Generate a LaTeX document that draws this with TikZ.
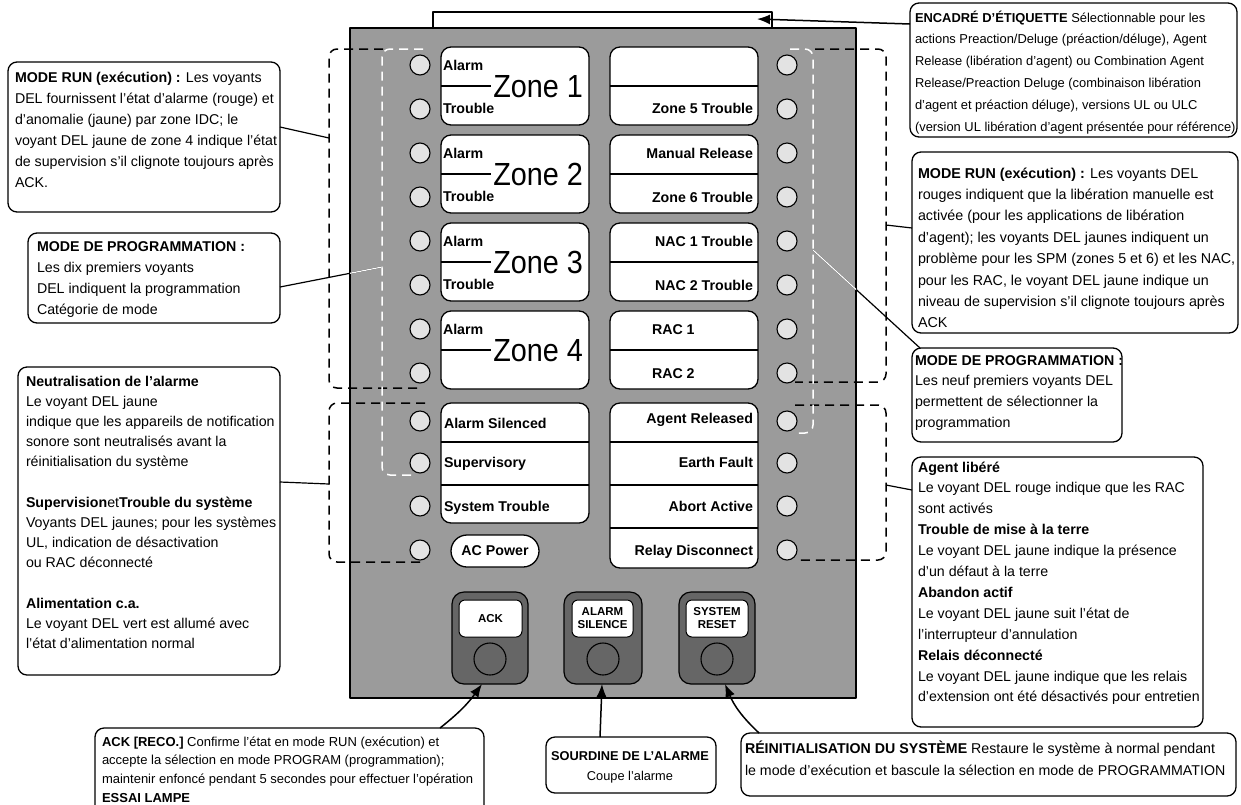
\documentclass[tikz,border=0pt]{standalone}
\usepackage{fontspec}
\usepackage{graphicx}
\setmainfont{Liberation Sans}
\usetikzlibrary{calc,arrows.meta}
\definecolor{panelgray}{HTML}{9B9B9B}
\definecolor{btngray}{HTML}{666666}
\definecolor{ledgray}{HTML}{E3E3E3}
\newcommand\st{\rule{0pt}{16pt}}
\begin{document}
\begin{tikzpicture}[x=1pt,y=-1pt,line join=round,
  every node/.style={inner sep=0pt,outer sep=0pt},
  callout/.style={draw=black,line width=1.3pt,fill=white,rounded corners=9pt,anchor=north west},
  ctext/.style={anchor=north west,align=left,font=\fontsize{14.2}{#1}\selectfont},
  ctext/.default=21,
  lbl/.style={font=\bfseries\fontsize{14.2}{16}\selectfont},
  zonetxt/.style={font=\fontsize{32}{32}\selectfont,anchor=base east},
  lblbox/.style={draw=black,line width=1.3pt,fill=white,rounded corners=10pt,anchor=north west},
  led/.style={circle,draw=black,line width=1.1pt,fill=ledgray,minimum size=20pt},
  btn/.style={draw=black,line width=1.2pt,fill=btngray,rounded corners=12pt,anchor=north west,minimum width=76pt,minimum height=92pt},
  btnlbl/.style={draw=black,line width=1pt,fill=white,rounded corners=6pt,anchor=north west,minimum height=37pt,align=center,font=\bfseries\fontsize{11.5}{13}\selectfont},
  btncirc/.style={circle,draw=black,line width=1.1pt,minimum size=32pt},
  dashblk/.style={draw=black,line width=1.5pt,dash pattern=on 9pt off 6pt,rounded corners=8pt},
  dashwht/.style={draw=white,line width=1.5pt,dash pattern=on 9pt off 6pt,rounded corners=8pt},
  conn/.style={draw=black,line width=1.2pt},
  arr/.style={draw=black,line width=1.5pt,-{Latex[length=13pt,width=10pt]}},
]
\useasboundingbox (0,0) rectangle (1241,804);
\clip (0,0) rectangle (1241,804);
\fill[white] (0,0) rectangle (1241,804);

% label frame and panel
\node[draw=black,line width=1.3pt,fill=white,anchor=north west,minimum width=339pt,minimum height=30pt] (frame) at (433,12) {};
\node[draw=black,line width=1.3pt,fill=panelgray,anchor=north west,minimum width=506pt,minimum height=670pt] (panel) at (350,28) {};

% zone boxes
\foreach \k/\z in {0/1,1/2,2/3,3/4}{
  \pgfmathsetmacro\yt{47+88*\k}
  \node[lblbox,minimum width=148pt,minimum height=78pt] (zl\k) at (441,\yt) {};
  \draw[line width=1.3pt] (zl\k.west) -- ++(50,0);
  \node[lbl,anchor=base west] (al\k) at (443,\yt+23) {Alarm};
  \node[zonetxt] (zt\k) at (583,\yt+50) {\scalebox{0.9}[1]{Zone \z}};
  \node[lblbox,minimum width=148pt,minimum height=78pt] (zr\k) at (610,\yt) {};
  \draw[line width=1.3pt] (zr\k.west) -- (zr\k.east);
}
\foreach \k in {0,1,2}{
  \node[lbl,anchor=base west] (tr\k) at (443,47+88*\k+66) {Trouble};
}
\node[lbl,anchor=base east] (r2) at (753,113) {Zone 5 Trouble};
\node[lbl,anchor=base east] (r3) at (753,158) {Manual Release};
\node[lbl,anchor=base east] (r4) at (753,202) {Zone 6 Trouble};
\node[lbl,anchor=base east] (r5) at (753,246) {NAC 1 Trouble};
\node[lbl,anchor=base east] (r6) at (753,290) {NAC 2 Trouble};
\node[lbl,anchor=base west] (r7) at (652,334) {RAC 1};
\node[lbl,anchor=base west] (r8) at (652,378) {RAC 2};

% lower groups
\node[lblbox,minimum width=148pt,minimum height=120pt] (gl) at (441,403) {};
\draw[line width=1.3pt] (441,442) -- (589,442) (441,485) -- (589,485);
\node[lbl,anchor=base west] (s1) at (444,428) {Alarm Silenced};
\node[lbl,anchor=base west] (s2) at (444,467) {Supervisory};
\node[lbl,anchor=base west] (s3) at (444,511) {System Trouble};
\node[draw=black,line width=1.3pt,fill=white,rounded corners=16pt,minimum width=88pt,minimum height=32pt,anchor=north west,lbl] (acp) at (451,535) {AC Power};
\node[lblbox,minimum width=148pt,minimum height=165pt] (gr) at (610,403) {};
\draw[line width=1.3pt] (610,442) -- (758,442) (610,485) -- (758,485) (610,528) -- (758,528);
\node[lbl,anchor=base east] (t1) at (753,423) {Agent Released};
\node[lbl,anchor=base east] (t2) at (753,467) {Earth Fault};
\node[lbl,anchor=base east] (t3) at (753,511) {Abort Active};
\node[lbl,anchor=base east] (t4) at (753,555) {Relay Disconnect};

% LEDs
\foreach \y [count=\i] in {65,109,153,197,241,285,329,373,421,463,506,550}{
  \node[led] (ledL\i) at (420,\y) {};
  \node[led] (ledR\i) at (787,\y) {};
}

% buttons
\node[btn] (bAck) at (452,592) {};
\node[btnlbl,minimum width=63pt] (lAck) at (459,600) {ACK};
\node[btncirc] (cAck) at (490,659) {};
\node[btn,minimum width=78pt] (bSil) at (564,592) {};
\node[btnlbl,minimum width=61pt] (lSil) at (572,600) {ALARM\\SILENCE};
\node[btncirc] (cSil) at (603,659) {};
\node[btn] (bRst) at (679,592) {};
\node[btnlbl,minimum width=62pt] (lRst) at (686,600) {SYSTEM\\RESET};
\node[btncirc] (cRst) at (717,659) {};

% dashed groupings
\draw[dashblk] (383,49) -| (329,388) -- (423,388);
\draw[dashblk] (425,403) -| (329,562) -- (425,562);
\draw[dashblk] (815,49) -| (886,382) -- (795,382);
\draw[dashblk] (795,405) -| (886,560) -- (795,560);
\draw[dashwht] (423,49) -- (382,49) -- (382,475) -- (417,475);
\draw[dashwht] (790,49) -- (813,49) -- (813,433) -- (795,433);

\coordinate (eRunL) at (329,138);
\coordinate (eProgL) at (382,267);
\coordinate (eNeutL) at (329,484);
\coordinate (eRunR) at (886,225);
\coordinate (eProgR) at (813,250);
\coordinate (eAgent) at (886,485);

% callouts
\node[callout,minimum width=272pt,minimum height=150pt] (runL) at (8,62) {};
\node[ctext] (runLt) at (15,66) {\st\textbf{MODE RUN (exécution) :} Les voyants\\
DEL fournissent l'état d'alarme (rouge) et\\
d'anomalie (jaune) par zone IDC; le\\
voyant DEL jaune de zone 4 indique l'état\\
de supervision s’il clignote toujours après\\
ACK.};

\node[callout,minimum width=252pt,minimum height=90pt] (progL) at (28,233) {};
\node[ctext] (progLt) at (37,235) {\st\textbf{MODE DE PROGRAMMATION :}\\
Les dix premiers voyants\\
DEL indiquent la programmation\\
Catégorie de mode};

\node[callout,minimum width=262pt,minimum height=308pt] (neutL) at (18,367) {};
\node[ctext=20.2] (neutLt) at (26,370) {\st\textbf{Neutralisation de l'alarme}\\
Le voyant DEL jaune\\
indique que les appareils de notification\\
sonore sont neutralisés avant la\\
réinitialisation du système\\
\mbox{}\\
\textbf{Supervision}et\textbf{Trouble du système}\\
Voyants DEL jaunes; pour les systèmes\\
UL, indication de désactivation\\
ou RAC déconnecté\\
\mbox{}\\
\textbf{Alimentation c.a.}\\
Le voyant DEL vert est allumé avec\\
l'état d'alimentation normal};

\node[callout,minimum width=327pt,minimum height=134pt] (encR) at (910,3) {};
\node[anchor=north west,align=left,font=\fontsize{12.9}{21.8}\selectfont] (encRt) at (915,6) {\st\textbf{ENCADRÉ D'ÉTIQUETTE} Sélectionnable pour les\\
actions Preaction/Deluge (préaction/déluge), Agent\\
Release (libération d'agent) ou Combination Agent\\
Release/Preaction Deluge (combinaison libération\\
d'agent et préaction déluge), versions UL ou ULC\\
(version UL libération d'agent présentée pour référence)};

\node[callout,minimum width=326pt,minimum height=181pt] (runR) at (912,152) {};
\node[anchor=north west,align=left,font=\fontsize{14.3}{21.4}\selectfont] (runRt) at (918,162) {\st\textbf{MODE RUN (exécution) :} Les voyants DEL\\
rouges indiquent que la libération manuelle est\\
activée (pour les applications de libération\\
d'agent); les voyants DEL jaunes indiquent un\\
problème pour les SPM (zones 5 et 6) et les NAC,\\
pour les RAC, le voyant DEL jaune indique un\\
niveau de supervision s’il clignote toujours après\\
ACK};

\node[callout,minimum width=210pt,minimum height=94pt] (progR) at (912,348) {};
\node[ctext=20.7] (progRt) at (915,349) {\st\textbf{MODE DE PROGRAMMATION :}\\
Les neuf premiers voyants DEL\\
permettent de sélectionner la\\
programmation};

\node[callout,minimum width=291pt,minimum height=270pt] (agentR) at (912,457) {};
\node[ctext=20.9] (agentRt) at (918,456) {\st\textbf{Agent libéré}\\
Le voyant DEL rouge indique que les RAC\\
sont activés\\
\textbf{Trouble de mise à la terre}\\
Le voyant DEL jaune indique la présence\\
d'un défaut à la terre\\
\textbf{Abandon actif}\\
Le voyant DEL jaune suit l'état de\\
l'interrupteur d'annulation\\
\textbf{Relais déconnecté}\\
Le voyant DEL jaune indique que les relais\\
d'extension ont été désactivés pour entretien};

\node[callout,minimum width=389pt,minimum height=100pt] (ackB) at (95,728) {};
\node[anchor=north west,align=left,font=\fontsize{13}{18.8}\selectfont] (ackBt) at (102,730) {\st\textbf{ACK [RECO.]} Confirme l'état en mode RUN (exécution) et\\
accepte la sélection en mode PROGRAM (programmation);\\
maintenir enfoncé pendant 5 secondes pour effectuer l'opération\\
\textbf{ESSAI LAMPE}};

\node[callout,minimum width=170pt,minimum height=56pt] (sourdB) at (546,737) {};
\node[anchor=north,align=center,font=\fontsize{12.8}{20}\selectfont] (sourdBt) at (630,744) {\st\textbf{SOURDINE DE L'ALARME}\\Coupe l'alarme};

\node[callout,minimum width=495pt,minimum height=63pt] (resetB) at (741,733) {};
\node[ctext=22] (resetBt) at (745,737) {\st\textbf{RÉINITIALISATION DU SYSTÈME} Restaure le système à normal pendant\\
le mode d’exécution et bascule la sélection en mode de PROGRAMMATION};

% connectors
\draw[conn] ($(runL.north east)+(0,65)$) -- (eRunL);
\draw[conn] ($(progL.north east)+(0,54)$) -- (eProgL);
\draw[conn] ($(neutL.north east)+(0,115)$) -- (eNeutL);
\draw[conn] ($(runR.north west)+(0,76)$) -- (eRunR);
\draw[conn] ($(progR.north west)+(8,0)$) -- (eProgR);
\draw[conn] ($(agentR.north west)+(0,33)$) -- (eAgent);
\begin{scope}
  \clip (350,28) rectangle (856,698);
  \draw[conn,white] ($(progL.north east)+(0,54)$) -- (eProgL);
  \draw[conn,white] ($(progR.north west)+(8,0)$) -- (eProgR);
\end{scope}
\draw[arr] ($(encR.north west)+(0,21)$) -- ($(frame.north east)+(-15,7)$);
\draw[arr] ($(ackB.north west)+(345,0)$) to[bend right=8] ($(bAck.south)+(-8,0)$);
\draw[arr] ($(sourdB.north west)+(54,0)$) -- ($(bSil.south)+(-1,0)$);
\draw[arr] ($(resetB.north west)+(18,0)$) to[bend left=12] ($(bRst.south)+(8,0)$);
\end{tikzpicture}
\end{document}
